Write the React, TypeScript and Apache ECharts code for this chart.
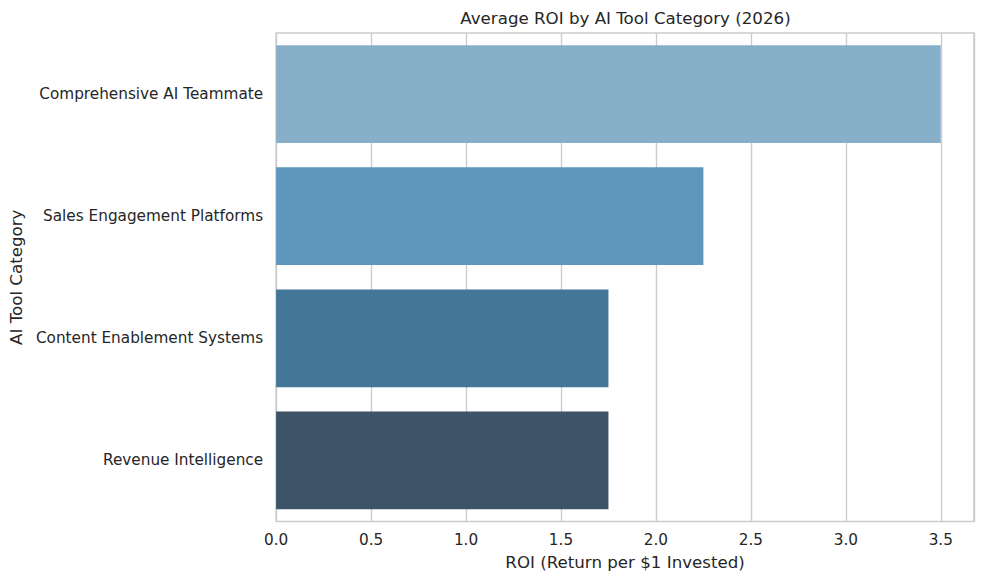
import React, { useEffect, useRef } from "react";
import * as echarts from "echarts";

const categories = [
  "Comprehensive AI Teammate",
  "Sales Engagement Platforms",
  "Content Enablement Systems",
  "Revenue Intelligence",
];
const roiValues = [3.5, 2.25, 1.75, 1.75];
const barColors = ["#88afca", "#5e95bb", "#447697", "#3c5368"];

const TEXT = "#262626";
const FONT = "DejaVu Sans";

export default function App() {
  const ref = useRef<HTMLDivElement>(null);
  useEffect(() => {
    if (!ref.current) return;
    const chart = echarts.init(ref.current, null, { renderer: "svg" });
    chart.setOption({
      animation: false,
      backgroundColor: "#ffffff",
      textStyle: { fontFamily: FONT, color: TEXT },
      title: {
        text: "Average ROI by AI Tool Category (2026)",
        left: 620.5,
        textAlign: "center",
        top: 5,
        textStyle: { fontFamily: FONT, fontSize: 16.67, fontWeight: "normal", color: TEXT },
      },
      grid: {
        left: 275,
        right: 10,
        top: 33,
        bottom: 62.5,
        show: true,
        borderColor: "#cccccc",
        borderWidth: 1.5,
        backgroundColor: "transparent",
      },
      xAxis: {
        type: "value",
        min: 0,
        max: 3.675,
        interval: 0.5,
        name: "ROI (Return per $1 Invested)",
        nameLocation: "middle",
        nameGap: 32,
        nameTextStyle: { fontFamily: FONT, fontSize: 16.67, color: TEXT },
        axisLine: { show: false },
        axisTick: { show: false },
        axisLabel: {
          fontFamily: FONT,
          fontSize: 15.28,
          color: TEXT,
          margin: 11,
          showMaxLabel: false,
          formatter: (v: number) => (Math.abs(v * 2 - Math.round(v * 2)) < 1e-9 ? v.toFixed(1) : ""),
        },
        splitLine: { show: true, lineStyle: { color: "#cccccc", width: 1.4 } },
      },
      yAxis: {
        type: "category",
        data: categories,
        inverse: true,
        name: "AI Tool Category",
        nameLocation: "middle",
        nameGap: 250,
        nameRotate: 90,
        nameTextStyle: { fontFamily: FONT, fontSize: 16.67, color: TEXT },
        axisLine: { show: false },
        axisTick: { show: false },
        axisLabel: {
          fontFamily: FONT,
          fontSize: 15.28,
          color: TEXT,
          margin: 13,
          padding: [3, 0, 0, 0],
        },
        splitLine: { show: false },
      },
      series: [
        {
          type: "bar",
          barCategoryGap: "20%",
          data: roiValues.map((v, i) => ({ value: v, itemStyle: { color: barColors[i] } })),
        },
      ],
    });
    return () => chart.dispose();
  }, []);
  return (
    <div
      ref={ref}
      style={{ position: "fixed", left: 0, top: 0, width: 984, height: 584 }}
    />
  );
}
